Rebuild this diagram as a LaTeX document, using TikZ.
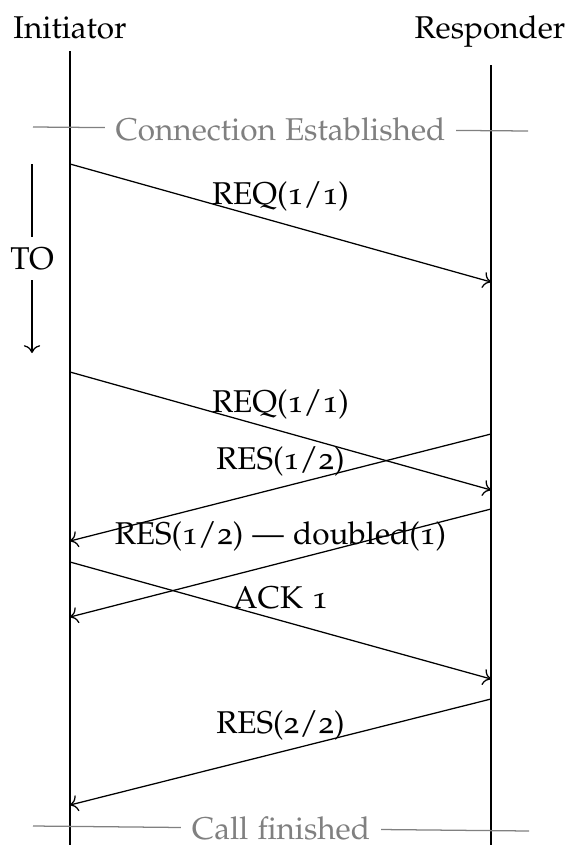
\documentclass[tikz,border=0pt]{standalone}
\usepackage[T1]{fontenc}
\usepackage[osf]{mathpazo}
\usepackage{xcolor}
\definecolor{cGray}{HTML}{808080}
\usepackage{tikz}
\usetikzlibrary{positioning,arrows.meta}
\tikzset{
  node-actor/.style={anchor=base,inner sep=0pt},
  lifeline/.style={draw=black},
  msg/.style={->,draw=black},
  msg-label/.style={above},
  sep-line/.style={draw=cGray},
  sep-label/.style={text=cGray,fill=white},
  timeout/.style={->,draw=black},
}
\begin{document}
\begin{tikzpicture}[x=0.3175pt,y=-0.3175pt]
  \useasboundingbox (0,0) rectangle (571,845);

  % Teilnehmer
  \node[node-actor] (init) at (70,38) {Initiator};
  \node[node-actor] (resp) at (490,38) {Responder};
  \coordinate (init-top) at (70,51);
  \coordinate (init-bot) at (70,845);
  \coordinate (resp-top) at (491,65);
  \coordinate (resp-bot) at (491,845);
  \draw[lifeline] (init-top) -- (init-bot);
  \draw[lifeline] (resp-top) -- (resp-bot);

  % Verbindungsaufbau
  \coordinate (est-l) at (33,127);
  \coordinate (est-r) at (528,131);
  \draw[sep-line] (est-l) -- node[sep-label] (est) {Connection Established} (est-r);

  % Timeout
  \coordinate (to-top) at (32,164);
  \coordinate (to-bot) at (32,353);
  \draw[timeout] (to-top) -- node[fill=white] (to) {TO} (to-bot);

  % Nachrichten
  \coordinate (i1) at (70,164);  \coordinate (r1) at (491,282);
  \coordinate (i2) at (70,372);  \coordinate (r2) at (491,490);
  \coordinate (r3) at (491,434); \coordinate (i3) at (70,541);
  \coordinate (r4) at (491,509); \coordinate (i4) at (70,617);
  \coordinate (i5) at (70,562);  \coordinate (r5) at (491,679);
  \coordinate (r6) at (491,699); \coordinate (i6) at (70,805);
  \draw[msg] (i1) -- node[msg-label] {REQ(1/1)} (r1);
  \draw[msg] (i2) -- node[msg-label] {REQ(1/1)} (r2);
  \draw[msg] (r3) -- node[msg-label] {RES(1/2)} (i3);
  \draw[msg] (r4) -- node[msg-label] {RES(1/2) --- doubled(1)} (i4);
  \draw[msg] (i5) -- node[msg-label] {ACK 1} (r5);
  \draw[msg] (r6) -- node[msg-label] {RES(2/2)} (i6);

  % Abbau
  \coordinate (fin-l) at (33,826);
  \coordinate (fin-r) at (529,831);
  \draw[sep-line] (fin-l) -- node[sep-label] (fin) {Call finished} (fin-r);
\end{tikzpicture}
\end{document}
